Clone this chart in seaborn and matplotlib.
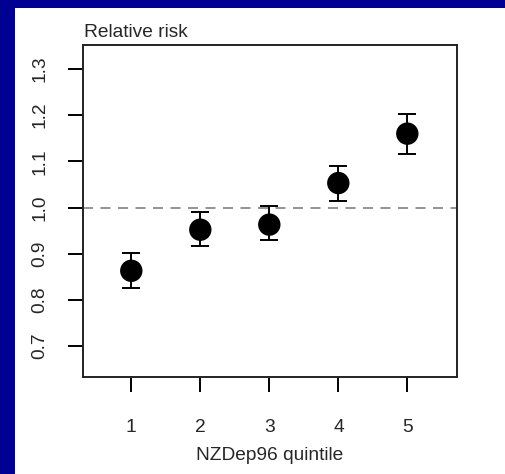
import matplotlib
matplotlib.use("Agg")
import matplotlib.pyplot as plt
import seaborn as sns
import pandas as pd
from matplotlib.patches import Rectangle

quintiles = [1, 2, 3, 4, 5]
relative_risk = [0.863, 0.952, 0.963, 1.053, 1.160]
ci_lower = [0.826, 0.916, 0.929, 1.015, 1.117]
ci_upper = [0.901, 0.991, 1.003, 1.090, 1.203]
y_ticks = [0.7, 0.8, 0.9, 1.0, 1.1, 1.2, 1.3]
x_label = "NZDep96 quintile"
y_title = "Relative risk"

sns.set_style("ticks")
plt.rcParams['font.family'] = ['Liberation Sans', 'DejaVu Sans']

BLUE = "#000092"
FS = 13.8
fig = plt.figure(figsize=(5.06, 4.74), dpi=100, facecolor=BLUE)
# white slide panel
fig.patches.append(Rectangle((15 / 506, 0), 1, 1 - 8 / 474, transform=fig.transFigure,
                             facecolor="white", edgecolor="none", zorder=-10))

ax = fig.add_axes([83 / 506, (474 - 377) / 474, (457 - 83) / 506, (377 - 45) / 474])
ax.set_facecolor("white")

df = pd.DataFrame({"quintile": quintiles, "rr": relative_risk,
                   "lo": ci_lower, "hi": ci_upper})

ax.axhline(1.0, color="#808080", lw=1.2, dashes=(6, 4.5), zorder=1)
ax.errorbar(df["quintile"], df["rr"],
            yerr=[df["rr"] - df["lo"], df["hi"] - df["rr"]],
            fmt="none", ecolor="black", elinewidth=1.4, capsize=6.8, capthick=1.4, zorder=2)
sns.scatterplot(data=df, x="quintile", y="rr", ax=ax, color="black", s=260,
                edgecolor="none", zorder=3, legend=False)

ax.set_xlim(0.3, 5.72)
ax.set_ylim(0.633, 1.352)
ax.set_xticks(quintiles)
ax.set_xticklabels([str(q) for q in quintiles], fontsize=FS)
ax.set_yticks(y_ticks)
ax.set_yticklabels([f"{v:.1f}" for v in y_ticks], fontsize=FS, rotation=90, va="center")
ax.tick_params(axis="both", direction="out", length=11, width=1.4, color="black")
ax.tick_params(axis="x", pad=19)
ax.tick_params(axis="y", pad=14)
for s in ax.spines.values():
    s.set_visible(True)
    s.set_linewidth(1.4)
    s.set_color("#222222")

ax.set_xlabel(x_label, fontsize=FS, labelpad=8)
ax.set_ylabel("")
ax.annotate(y_title, xy=(0, 1), xycoords="axes fraction", xytext=(1, 3),
            textcoords="offset points", ha="left", va="bottom", fontsize=FS)

fig.savefig("out.png", dpi=100, facecolor=BLUE)
